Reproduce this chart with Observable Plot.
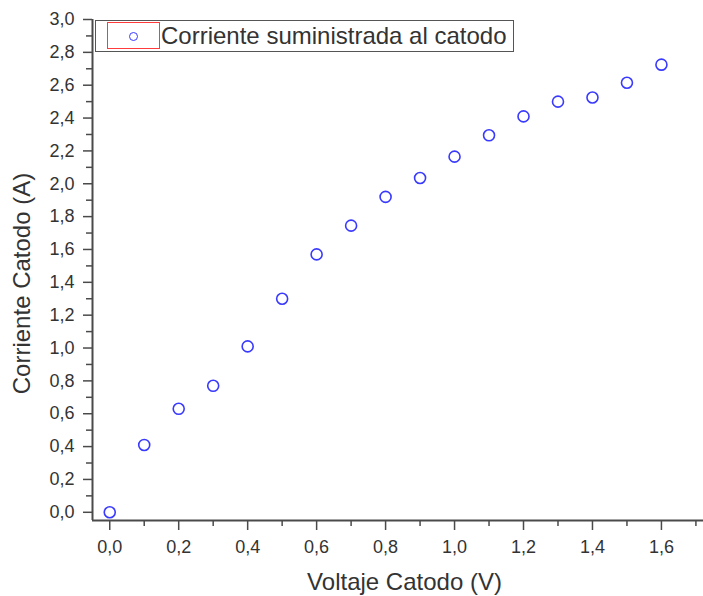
<!DOCTYPE html>
<html>
<head>
<meta charset="utf-8">
<script src="https://cdn.jsdelivr.net/npm/d3@7"></script>
<script src="https://cdn.jsdelivr.net/npm/@observablehq/plot@0.6"></script>
<style>
  html, body { margin: 0; padding: 0; background: #fff; }
  #wrap { position: relative; width: 703px; height: 596px; font-family: "Liberation Sans", Arial, sans-serif; }
  #legend { position: absolute; left: 95px; top: 20px; width: 417px; height: 30px; border: 1.5px solid #555; background: #fff; box-sizing: content-box; }
  #legend .sym { position: absolute; left: 11px; top: 1px; width: 51px; height: 25px; border: 1px solid #ff3b3b; }
  #legend .circ { position: absolute; width: 7px; height: 7px; border: 1.5px solid #3a3aff; border-radius: 50%; }
  #legend .txt { position: absolute; left: 65px; top: 0px; line-height: 30px; font-size: 24px; color: #333; white-space: nowrap; }
</style>
</head>
<body>
<div id="wrap"></div>
<script>
// Data
const voltage = [0.0, 0.1, 0.2, 0.3, 0.4, 0.5, 0.6, 0.7, 0.8, 0.9, 1.0, 1.1, 1.2, 1.3, 1.4, 1.5, 1.6];
const current = [0.00, 0.41, 0.63, 0.77, 1.01, 1.30, 1.57, 1.745, 1.92, 2.035, 2.165, 2.295, 2.41, 2.50, 2.525, 2.615, 2.725];
const seriesName = "Corriente suministrada al catodo";
const xTitle = "Voltaje Catodo (V)";
const yTitle = "Corriente Catodo (A)";
const xTicks = [0.0, 0.2, 0.4, 0.6, 0.8, 1.0, 1.2, 1.4, 1.6];
const xMinorTicks = [0.1, 0.3, 0.5, 0.7, 0.9, 1.1, 1.3, 1.5, 1.7];
const yTicks = [0.0, 0.2, 0.4, 0.6, 0.8, 1.0, 1.2, 1.4, 1.6, 1.8, 2.0, 2.2, 2.4, 2.6, 2.8, 3.0];
const yMinorTicks = [0.1, 0.3, 0.5, 0.7, 0.9, 1.1, 1.3, 1.5, 1.7, 1.9, 2.1, 2.3, 2.5, 2.7, 2.9];
const xDomain = [-0.05, 1.722];
const yDomain = [-0.05, 3.0];

const points = voltage.map((v, i) => ({v, c: current[i]}));
const fmt = d => d.toFixed(1).replace(".", ",");
const axisColor = "#4a4a4a";
const textColor = "#333";

const chart = Plot.plot({
  width: 703,
  height: 596,
  marginLeft: 92,
  marginRight: 0,
  marginTop: 19,
  marginBottom: 76,
  style: {fontFamily: '"Liberation Sans", Arial, sans-serif', fontSize: "18px", color: textColor, background: "#fff"},
  x: {domain: xDomain, axis: null, label: null},
  y: {domain: yDomain, axis: null, label: null},
  marks: [
    Plot.axisX({ticks: xTicks, anchor: "bottom", tickSize: 10, tickPadding: 10, tickFormat: fmt, stroke: axisColor, strokeWidth: 1.5, fill: textColor, fontSize: 18, label: null}),
    Plot.axisX({ticks: xMinorTicks, anchor: "bottom", tickSize: 6, stroke: axisColor, strokeWidth: 1.5, fill: "none", label: null}),
    Plot.axisY({ticks: yTicks, anchor: "left", tickSize: 9, tickPadding: 9, tickFormat: fmt, stroke: axisColor, strokeWidth: 1.5, fill: textColor, fontSize: 18, label: null}),
    Plot.axisY({ticks: yMinorTicks, anchor: "left", tickSize: 6, stroke: axisColor, strokeWidth: 1.5, fill: "none", label: null}),
    Plot.ruleX([xDomain[0]], {stroke: axisColor, strokeWidth: 2}),
    Plot.ruleY([yDomain[0]], {stroke: axisColor, strokeWidth: 2}),
    Plot.dot(points, {x: "v", y: "c", r: 5.5, stroke: "#3a3aff", strokeWidth: 1.6, fill: "none"}),
    Plot.text([xTitle], {frameAnchor: "bottom", dx: 6.5, dy: 62, fontSize: 24, fill: textColor, textAnchor: "middle", lineAnchor: "middle"}),
    Plot.text([yTitle], {frameAnchor: "left", rotate: -90, dx: -70, dy: 13.5, fontSize: 24, fill: textColor, textAnchor: "middle", lineAnchor: "middle"})
  ]
});

const wrap = document.getElementById("wrap");
wrap.appendChild(chart);
chart.style.position = "absolute";
chart.style.left = "0";
chart.style.top = "0";

const legend = document.createElement("div");
legend.id = "legend";
legend.innerHTML = '<div class="sym"></div><div class="circ"></div><div class="txt"></div>';
legend.querySelector(".txt").textContent = seriesName;
const circ = legend.querySelector(".circ");
circ.style.left = "33px";
circ.style.top = "11px";
wrap.appendChild(legend);
</script>
</body>
</html>
